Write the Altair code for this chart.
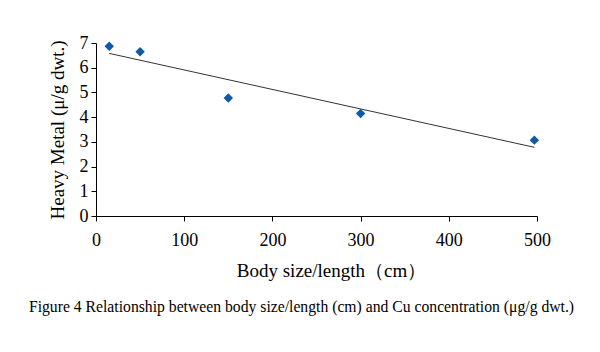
import altair as alt
import pandas as pd

body_size = [15, 50, 150, 300, 497]
cu_conc = [6.87, 6.65, 4.77, 4.15, 3.07]
x_ticks = [0, 100, 200, 300, 400, 500]
y_ticks = [0, 1, 2, 3, 4, 5, 6, 7]

df = pd.DataFrame({"x": body_size, "y": cu_conc})

FONT = "Liberation Serif"

xenc = alt.X("x:Q", scale=alt.Scale(domain=[0, 500], nice=False),
             axis=alt.Axis(values=x_ticks, title="Body size/length（cm）", grid=False,
                           domainColor="black", tickColor="black", tickSize=5,
                           labelFont=FONT, labelFontSize=18, labelColor="black",
                           labelPadding=10, titleFont=FONT, titleFontSize=19,
                           titleFontWeight="normal", titleColor="black", titlePadding=12,
                           titleX=235, labelFlush=False))
yenc = alt.Y("y:Q", scale=alt.Scale(domain=[0, 7], nice=False),
             axis=alt.Axis(values=y_ticks, title="Heavy Metal (μ/g dwt.)", grid=False,
                           domainColor="black", tickColor="black", tickSize=5,
                           labelFont=FONT, labelFontSize=18, labelColor="black",
                           labelPadding=3, titleFont=FONT, titleFontSize=19,
                           titleFontWeight="normal", titleColor="black", titlePadding=12,
                           labelFlush=False))

base = alt.Chart(df)

points = base.mark_point(shape="diamond", filled=True, size=90,
                         color="#0d5aa7", opacity=1).encode(x=xenc, y=yenc)

trend = base.transform_regression("x", "y").mark_line(
    color="#333333", strokeWidth=1).encode(x=xenc, y=yenc)

chart = alt.layer(trend, points).properties(
    width=441, height=173,
    autosize=alt.AutoSizeParams(type="none"),
    padding={"left": 96, "top": 43, "right": 63, "bottom": 136},
    title=alt.TitleParams(
        text="Figure 4 Relationship between body size/length (cm) and Cu concentration (μg/g dwt.)",
        orient="bottom", anchor="middle", font=FONT, fontSize=15.7, fontWeight="normal",
        color="black", offset=20, dx=-15),
).configure(background="white").configure_view(stroke=None)

chart.save("out.html", embed_options={"renderer": "svg", "actions": False})
